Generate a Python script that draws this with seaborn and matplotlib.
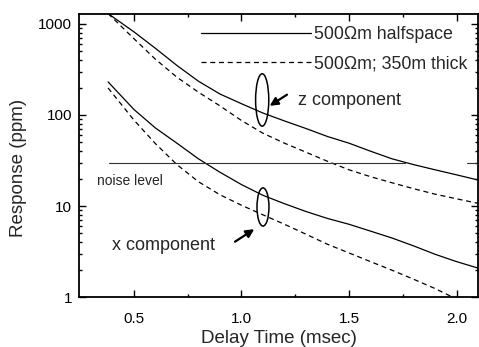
import matplotlib
matplotlib.use("Agg")
import matplotlib.pyplot as plt
from matplotlib.patches import Ellipse
from matplotlib.ticker import FixedLocator, NullFormatter, LogLocator
import numpy as np
import pandas as pd
import seaborn as sns

# ---- data ----
delay = [0.38, 0.5, 0.6, 0.7, 0.8, 0.9, 1.0, 1.1, 1.2, 1.3, 1.4, 1.5,
         1.6, 1.7, 1.8, 1.9, 2.0, 2.1]
z_half = [1300, 820, 540, 350, 235, 170, 133, 105, 86, 71, 58, 49,
          40, 33, 28.5, 25, 22, 19.3]
z_thick = [1300, 690, 410, 260, 178, 126, 87, 63, 49, 39, 31, 25,
           21, 18, 15.5, 13.5, 12, 10.7]
x_half = [231, 115, 72, 49, 33, 23.5, 17.2, 13.1, 10.6, 8.7, 7.3, 6.3,
          5.3, 4.45, 3.65, 2.95, 2.45, 2.08]
x_thick = [198, 88, 48.5, 28.5, 18.5, 13.3, 10.2, 8.0, 6.3, 4.9, 3.8, 3.05,
           2.45, 1.97, 1.57, 1.24, 0.95, 0.72]
noise_level = 30
noise_x1 = [0.385, 1.76]
noise_x2 = [2.05, 2.1]
xticks = [0.5, 1.0, 1.5, 2.0]
xtick_labels = ["0.5", "1.0", "1.5", "2.0"]
yticks = [1, 10, 100, 1000]
ytick_labels = ["1", "10", "100", "1000"]
label_half = "500\u03a9m halfspace"
label_thick = "500\u03a9m; 350m thick"

sns.set_style("ticks")
plt.rcParams['font.family'] = ['Liberation Sans', 'DejaVu Sans']

fig = plt.figure(figsize=(4.79, 3.47), dpi=100)
ax = fig.add_axes([0.165, 0.144, 0.833, 0.816])

n = len(delay)
df = pd.DataFrame({
    "t": delay * 4,
    "v": z_half + z_thick + x_half + x_thick,
    "model": [label_half] * n + [label_thick] * n + [label_half] * n + [label_thick] * n,
    "comp": ["z"] * (2 * n) + ["x"] * (2 * n),
})

for comp in ["z", "x"]:
    sub = df[df.comp == comp]
    sns.lineplot(data=sub[sub.model == label_half], x="t", y="v", ax=ax,
                 color="black", lw=0.9, label=label_half if comp == "z" else None)
    sns.lineplot(data=sub[sub.model == label_thick], x="t", y="v", ax=ax,
                 color="black", lw=0.9, linestyle=(0, (4, 3)),
                 label=label_thick if comp == "z" else None)

ax.plot(noise_x1, [noise_level] * 2, color="#333333", lw=0.8)
ax.plot(noise_x2, [noise_level] * 2, color="#333333", lw=0.8)

ax.set_yscale("log")
ax.set_xlim(0.245, 2.1)
ax.set_ylim(1, 1290)

ax.xaxis.set_major_locator(FixedLocator(xticks))
ax.set_xticklabels(xtick_labels)
ax.xaxis.set_minor_locator(FixedLocator([0.75, 1.25, 1.75]))
ax.yaxis.set_major_locator(FixedLocator(yticks))
ax.set_yticklabels(ytick_labels)
ax.yaxis.set_minor_locator(LogLocator(base=10, subs=np.arange(2, 10)))
ax.yaxis.set_minor_formatter(NullFormatter())

ax.tick_params(which="both", direction="in", top=True, right=True,
               labelsize=11, colors="black", width=1)
ax.tick_params(which="major", length=5)
ax.tick_params(axis="x", which="major", pad=11)
ax.tick_params(axis="y", which="major", pad=5)
ax.tick_params(which="minor", length=2.5)
for s in ax.spines.values():
    s.set_visible(True)
    s.set_linewidth(1.3)
    s.set_color("black")

ax.set_xlabel("Delay Time (msec)", fontsize=13.5, labelpad=3)
ax.set_ylabel("Response (ppm)", fontsize=13.5)
ax.yaxis.set_label_coords(-0.13, 0.456)

leg = ax.legend(loc="upper right", bbox_to_anchor=(1.005, 1.0), frameon=False,
                handlelength=6.2, handletextpad=0.17, labelspacing=0.68,
                fontsize=12.8, borderaxespad=0.3)

# annotations
ax.text(0.328, 18.8, "noise level", fontsize=10, va="center", ha="left")
ax.text(1.262, 146, "z component", fontsize=13, va="center", ha="left")
ax.text(0.398, 3.72, "x component", fontsize=13, va="center", ha="left")

ax.add_patch(Ellipse((0.459, 0.696), 0.033, 0.185, transform=ax.transAxes,
                     fill=False, lw=1.1, color="black"))
ax.add_patch(Ellipse((0.461, 0.318), 0.030, 0.135, transform=ax.transAxes,
                     fill=False, lw=1.1, color="black"))
ax.annotate("", xy=(0.472, 0.67), xytext=(0.527, 0.72),
            xycoords="axes fraction",
            arrowprops=dict(arrowstyle="-|>", color="black", lw=1.6,
                            mutation_scale=12))
ax.annotate("", xy=(0.445, 0.245), xytext=(0.385, 0.19),
            xycoords="axes fraction",
            arrowprops=dict(arrowstyle="-|>", color="black", lw=1.6,
                            mutation_scale=12))

fig.savefig("out.png", dpi=100)
